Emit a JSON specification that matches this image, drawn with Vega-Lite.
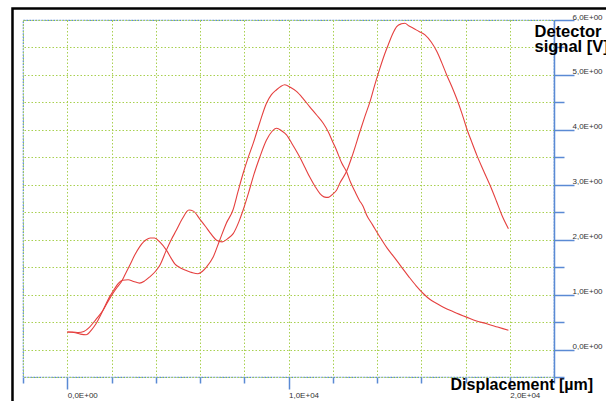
{
  "$schema": "https://vega.github.io/schema/vega-lite/v6.json",
  "width": 531,
  "height": 357,
  "autosize": {"type": "none"},
  "padding": {"left": 23, "top": 20, "right": 52, "bottom": 24},
  "background": "white",
  "config": {
    "view": {"stroke": "#5a8ad4", "strokeDash": [2, 1], "strokeWidth": 1.2},
    "font": "Liberation Sans"
  },
  "resolve": {"axis": {"x": "independent", "y": "independent"}},
  "datasets": {
    "curves": [
      {"curve": "A", "x": 0, "y": 0.32}, {"curve": "A", "x": 300, "y": 0.31}, {"curve": "A", "x": 600, "y": 0.28}, {"curve": "A", "x": 850, "y": 0.27},
      {"curve": "A", "x": 1100, "y": 0.36}, {"curve": "A", "x": 1300, "y": 0.47}, {"curve": "A", "x": 1600, "y": 0.70}, {"curve": "A", "x": 1900, "y": 0.95},
      {"curve": "A", "x": 2100, "y": 1.08}, {"curve": "A", "x": 2300, "y": 1.20}, {"curve": "A", "x": 2500, "y": 1.26}, {"curve": "A", "x": 2750, "y": 1.27},
      {"curve": "A", "x": 3000, "y": 1.24}, {"curve": "A", "x": 3270, "y": 1.21}, {"curve": "A", "x": 3500, "y": 1.25}, {"curve": "A", "x": 3720, "y": 1.32},
      {"curve": "A", "x": 4000, "y": 1.43}, {"curve": "A", "x": 4180, "y": 1.53}, {"curve": "A", "x": 4480, "y": 1.81}, {"curve": "A", "x": 4700, "y": 2.0},
      {"curve": "A", "x": 4930, "y": 2.17}, {"curve": "A", "x": 5200, "y": 2.38}, {"curve": "A", "x": 5500, "y": 2.54}, {"curve": "A", "x": 5700, "y": 2.52},
      {"curve": "A", "x": 6000, "y": 2.37}, {"curve": "A", "x": 6250, "y": 2.24}, {"curve": "A", "x": 6450, "y": 2.13}, {"curve": "A", "x": 6750, "y": 1.99},
      {"curve": "A", "x": 7000, "y": 1.96}, {"curve": "A", "x": 7250, "y": 2.02}, {"curve": "A", "x": 7500, "y": 2.11}, {"curve": "A", "x": 7750, "y": 2.32},
      {"curve": "A", "x": 7950, "y": 2.54}, {"curve": "A", "x": 8200, "y": 2.86}, {"curve": "A", "x": 8400, "y": 3.14}, {"curve": "A", "x": 8700, "y": 3.50},
      {"curve": "A", "x": 9000, "y": 3.81}, {"curve": "A", "x": 9250, "y": 3.97}, {"curve": "A", "x": 9460, "y": 4.03}, {"curve": "A", "x": 9700, "y": 3.98},
      {"curve": "A", "x": 9910, "y": 3.91}, {"curve": "A", "x": 10200, "y": 3.72}, {"curve": "A", "x": 10500, "y": 3.51}, {"curve": "A", "x": 10750, "y": 3.31},
      {"curve": "A", "x": 10960, "y": 3.14}, {"curve": "A", "x": 11200, "y": 2.97}, {"curve": "A", "x": 11420, "y": 2.84}, {"curve": "A", "x": 11600, "y": 2.78},
      {"curve": "A", "x": 11800, "y": 2.77}, {"curve": "A", "x": 12000, "y": 2.83}, {"curve": "A", "x": 12170, "y": 2.90}, {"curve": "A", "x": 12320, "y": 3.03},
      {"curve": "A", "x": 12620, "y": 3.24}, {"curve": "A", "x": 12900, "y": 3.55}, {"curve": "A", "x": 13230, "y": 3.97}, {"curve": "A", "x": 13450, "y": 4.24},
      {"curve": "A", "x": 13680, "y": 4.51}, {"curve": "A", "x": 13900, "y": 4.82}, {"curve": "A", "x": 14130, "y": 5.12}, {"curve": "A", "x": 14320, "y": 5.35},
      {"curve": "A", "x": 14510, "y": 5.55}, {"curve": "A", "x": 14700, "y": 5.74}, {"curve": "A", "x": 14890, "y": 5.88}, {"curve": "A", "x": 15100, "y": 5.93},
      {"curve": "A", "x": 15260, "y": 5.94}, {"curve": "A", "x": 15450, "y": 5.89}, {"curve": "A", "x": 15640, "y": 5.85}, {"curve": "A", "x": 15900, "y": 5.79},
      {"curve": "A", "x": 16170, "y": 5.73}, {"curve": "A", "x": 16450, "y": 5.60}, {"curve": "A", "x": 16700, "y": 5.43}, {"curve": "A", "x": 16930, "y": 5.22},
      {"curve": "A", "x": 17150, "y": 5.0}, {"curve": "A", "x": 17380, "y": 4.79}, {"curve": "A", "x": 17600, "y": 4.57}, {"curve": "A", "x": 17830, "y": 4.31},
      {"curve": "A", "x": 18050, "y": 4.03}, {"curve": "A", "x": 18280, "y": 3.78}, {"curve": "A", "x": 18510, "y": 3.54}, {"curve": "A", "x": 18800, "y": 3.27},
      {"curve": "A", "x": 19110, "y": 2.99}, {"curve": "A", "x": 19400, "y": 2.70}, {"curve": "A", "x": 19640, "y": 2.45}, {"curve": "A", "x": 19940, "y": 2.20},
      {"curve": "B", "x": 0, "y": 0.32}, {"curve": "B", "x": 250, "y": 0.32}, {"curve": "B", "x": 500, "y": 0.31}, {"curve": "B", "x": 750, "y": 0.33},
      {"curve": "B", "x": 1010, "y": 0.41}, {"curve": "B", "x": 1300, "y": 0.55}, {"curve": "B", "x": 1610, "y": 0.71}, {"curve": "B", "x": 1850, "y": 0.88},
      {"curve": "B", "x": 2060, "y": 1.02}, {"curve": "B", "x": 2250, "y": 1.13}, {"curve": "B", "x": 2440, "y": 1.23}, {"curve": "B", "x": 2620, "y": 1.37},
      {"curve": "B", "x": 2820, "y": 1.53}, {"curve": "B", "x": 3050, "y": 1.72}, {"curve": "B", "x": 3270, "y": 1.87}, {"curve": "B", "x": 3450, "y": 1.96},
      {"curve": "B", "x": 3570, "y": 2.0}, {"curve": "B", "x": 3750, "y": 2.03}, {"curve": "B", "x": 3950, "y": 2.03}, {"curve": "B", "x": 4180, "y": 1.96},
      {"curve": "B", "x": 4480, "y": 1.81}, {"curve": "B", "x": 4700, "y": 1.66}, {"curve": "B", "x": 4860, "y": 1.56}, {"curve": "B", "x": 5100, "y": 1.49},
      {"curve": "B", "x": 5380, "y": 1.44}, {"curve": "B", "x": 5650, "y": 1.40}, {"curve": "B", "x": 5910, "y": 1.38}, {"curve": "B", "x": 6100, "y": 1.42},
      {"curve": "B", "x": 6290, "y": 1.50}, {"curve": "B", "x": 6590, "y": 1.68}, {"curve": "B", "x": 6890, "y": 1.99}, {"curve": "B", "x": 7190, "y": 2.30},
      {"curve": "B", "x": 7490, "y": 2.54}, {"curve": "B", "x": 7720, "y": 2.88}, {"curve": "B", "x": 7950, "y": 3.21}, {"curve": "B", "x": 8180, "y": 3.50},
      {"curve": "B", "x": 8400, "y": 3.75}, {"curve": "B", "x": 8700, "y": 4.13}, {"curve": "B", "x": 9000, "y": 4.48}, {"curve": "B", "x": 9230, "y": 4.64},
      {"curve": "B", "x": 9460, "y": 4.73}, {"curve": "B", "x": 9650, "y": 4.79}, {"curve": "B", "x": 9830, "y": 4.82}, {"curve": "B", "x": 10100, "y": 4.77},
      {"curve": "B", "x": 10360, "y": 4.70}, {"curve": "B", "x": 10660, "y": 4.57}, {"curve": "B", "x": 10960, "y": 4.42}, {"curve": "B", "x": 11270, "y": 4.27},
      {"curve": "B", "x": 11570, "y": 4.12}, {"curve": "B", "x": 11790, "y": 3.97}, {"curve": "B", "x": 12000, "y": 3.78}, {"curve": "B", "x": 12170, "y": 3.63},
      {"curve": "B", "x": 12400, "y": 3.40}, {"curve": "B", "x": 12620, "y": 3.24}, {"curve": "B", "x": 12800, "y": 3.05}, {"curve": "B", "x": 13000, "y": 2.88},
      {"curve": "B", "x": 13200, "y": 2.72}, {"curve": "B", "x": 13380, "y": 2.60}, {"curve": "B", "x": 13530, "y": 2.45}, {"curve": "B", "x": 13800, "y": 2.27},
      {"curve": "B", "x": 14130, "y": 2.05}, {"curve": "B", "x": 14450, "y": 1.85}, {"curve": "B", "x": 14800, "y": 1.67}, {"curve": "B", "x": 15110, "y": 1.50},
      {"curve": "B", "x": 15450, "y": 1.32}, {"curve": "B", "x": 15770, "y": 1.16}, {"curve": "B", "x": 16090, "y": 1.02}, {"curve": "B", "x": 16400, "y": 0.91},
      {"curve": "B", "x": 16700, "y": 0.84}, {"curve": "B", "x": 17000, "y": 0.77}, {"curve": "B", "x": 17500, "y": 0.68}, {"curve": "B", "x": 18050, "y": 0.59},
      {"curve": "B", "x": 18500, "y": 0.52}, {"curve": "B", "x": 18960, "y": 0.47}, {"curve": "B", "x": 19450, "y": 0.41}, {"curve": "B", "x": 19940, "y": 0.35}
    ]
  },
  "layer": [
    {
      "data": {"name": "curves"},
      "mark": {"type": "line", "color": "#e5403f", "strokeWidth": 1.1, "interpolate": "monotone"},
      "encoding": {
        "detail": {"field": "curve", "type": "nominal"},
        "x": {
          "field": "x", "type": "quantitative",
          "scale": {"domain": [-2000, 22000], "nice": false, "zero": false},
          "axis": {
            "orient": "bottom",
            "values": [-2000, 0, 2000, 4000, 6000, 8000, 10000, 12000, 14000, 16000, 18000, 20000, 22000],
            "grid": true, "gridColor": "#a8d050", "gridDash": [1.5, 2], "gridWidth": 1,
            "domain": false,
            "tickColor": "#5a8ad4", "tickWidth": 1.5,
            "tickSize": {"condition": {"test": "datum.value % 10000 === 0", "value": 12}, "value": 6},
            "labelExpr": "datum.value === 0 ? '0,0E+00' : datum.value === 10000 ? '1,0E+04' : datum.value === 20000 ? '2,0E+04' : ''",
            "labelAlign": "left", "labelBaseline": "top", "labelPadding": 2,
            "labelFontSize": 8, "labelColor": "#333333", "labelFlush": false, "labelOverlap": false,
            "title": "Displacement [µm]", "titleFontSize": 16, "titleFontWeight": "bold", "titleColor": "#000000",
            "titleX": 427, "titleY": 12, "titleAlign": "left", "titleBaseline": "alphabetic", "titleAnchor": "start"
          }
        },
        "y": {
          "field": "y", "type": "quantitative",
          "scale": {"domain": [-0.5, 6], "nice": false, "zero": false},
          "axis": {
            "orient": "right",
            "values": [-0.5, 0, 0.5, 1, 1.5, 2, 2.5, 3, 3.5, 4, 4.5, 5, 5.5, 6],
            "grid": true, "gridColor": "#a8d050", "gridDash": [1.5, 2], "gridWidth": 1,
            "domain": true, "domainColor": "#5a8ad4", "domainWidth": 1.5,
            "tickColor": "#5a8ad4", "tickWidth": 1.5,
            "tickSize": {"condition": {"test": "datum.value % 1 === 0", "value": 20}, "value": 10},
            "labelExpr": "datum.value % 1 === 0 && datum.value >= 0 ? datum.value + ',0E+00' : ''",
            "labelAlign": "left", "labelBaseline": "alphabetic", "labelPadding": -2, "labelOffset": -1,
            "labelFontSize": 8, "labelColor": "#333333", "labelFlush": false, "labelOverlap": false,
            "title": ["Detector", "signal [V]"], "titleAngle": 0, "titleX": -20, "titleY": 16,
            "titleAlign": "left", "titleBaseline": "alphabetic", "titleFontSize": 16.5, "titleFontWeight": "bold",
            "titleColor": "#000000", "titleLineHeight": 15
          }
        }
      }
    },
    {
      "data": {"values": [{}]},
      "mark": {"type": "rect", "filled": false, "stroke": "#000000", "strokeWidth": 2.5},
      "encoding": {
        "x": {"datum": -2475, "type": "quantitative", "axis": null},
        "x2": {"datum": 30000},
        "y": {"datum": 6.21, "type": "quantitative", "axis": null},
        "y2": {"datum": -3}
      }
    }
  ]
}
